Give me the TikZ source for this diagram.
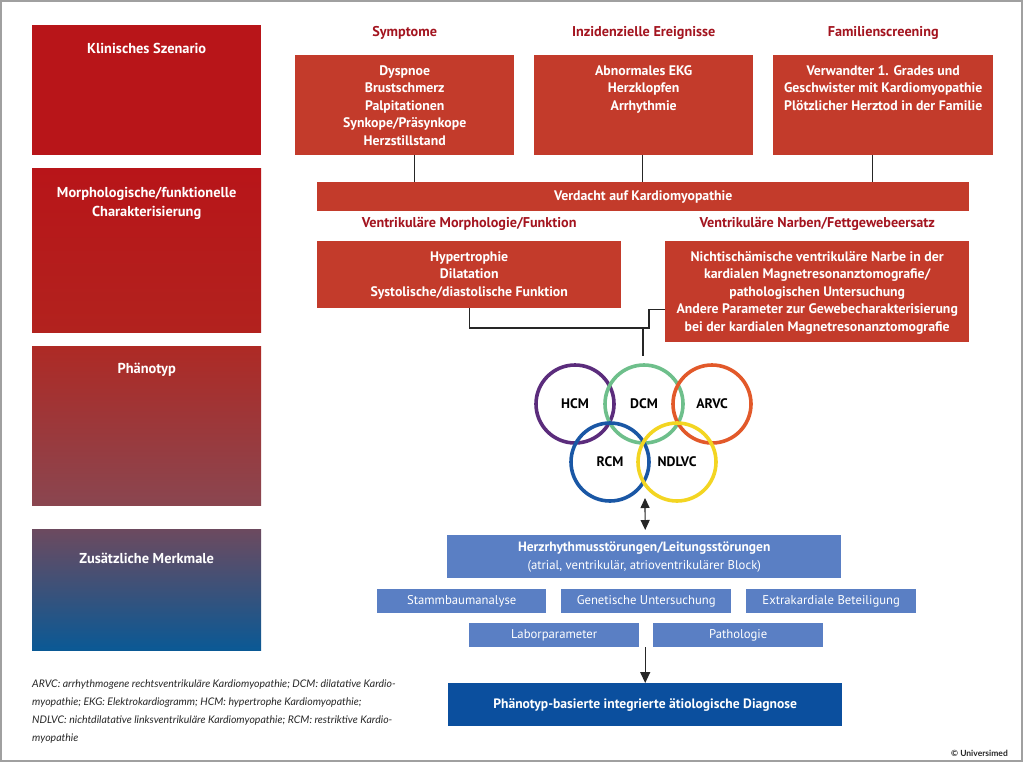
\documentclass[tikz,border=0pt]{standalone}
\usepackage{fontspec}
\setmainfont{PT Sans}
\newfontfamily\notefont{Lato}
\usepackage{xcolor}
\usepackage{tikz}
\usetikzlibrary{shapes,arrows,arrows.meta,positioning}

\definecolor{framegray}{HTML}{A0A0A0}
\definecolor{szenred}{HTML}{B81519}
\definecolor{morphred}{HTML}{B2221E}
\definecolor{phenored}{HTML}{AE2A25}
\definecolor{phenomauve}{HTML}{8A4650}
\definecolor{zusatzmauve}{HTML}{6C4A5F}
\definecolor{zusatzmid}{HTML}{48506F}
\definecolor{zusatzblue}{HTML}{0A5995}
\definecolor{headred}{HTML}{A3141F}
\definecolor{boxred}{HTML}{C33B2B}
\definecolor{lightblue}{HTML}{5A7FC4}
\definecolor{diagblue}{HTML}{0B4F9E}
\definecolor{hcmcol}{HTML}{5B2C7C}
\definecolor{dcmcol}{HTML}{6EBF8B}
\definecolor{arvccol}{HTML}{E2592A}
\definecolor{rcmcol}{HTML}{1A57A5}
\definecolor{ndlvccol}{HTML}{F3D522}

\newcommand\boxfont{\bfseries\fontsize{13.8}{17.6}\selectfont}
\newcommand\headfont{\bfseries\fontsize{14.2}{17.6}\selectfont}
\newcommand\stagefont{\bfseries\fontsize{14.4}{19}\selectfont}
\newcommand\plainfont{\fontsize{12.7}{18}\selectfont}

\tikzset{
    frame/.style={
        draw=framegray,
        line width=1.2pt
    },
    stage/.style={
        rectangle,
        anchor=north west,
        inner sep=0pt,
        minimum width=229pt
    },
    stagetext/.style={
        anchor=north,
        align=center,
        inner sep=0pt,
        text=white,
        font=\stagefont
    },
    redbox/.style={
        rectangle,
        anchor=north west,
        inner sep=0pt,
        fill=boxred
    },
    boxtext/.style={
        align=center,
        inner sep=0pt,
        text=white,
        font=\boxfont
    },
    heading/.style={
        inner sep=0pt,
        text=headred,
        font=\headfont
    },
    ring/.style={
        circle,
        inner sep=0pt,
        minimum size=78pt,
        line width=3.6pt,
        text=black,
        font=\boxfont
    },
    bluebox/.style={
        rectangle,
        anchor=north west,
        inner sep=0pt,
        fill=lightblue,
        text=white,
        align=center,
        font=\plainfont
    },
    link/.style={
        line width=1.2pt,
        black!85
    }
}

\begin{document}
\begin{tikzpicture}[x=1pt,y=-1pt]
    \useasboundingbox (0,0) rectangle (1024,763);
    \draw[frame] (1,1) rectangle (1022,761);

    \node[
        stage,
        minimum height=130pt,
        fill=szenred
        ] (szenario) at (32,25) {};
    \node[stagetext, below=18pt of szenario.north] (szenario-text) {Klinisches Szenario};

    \node[
        stage,
        minimum height=164pt,
        top color=szenred,
        bottom color=morphred
        ] (morpho) at (32,168) {};
    \node[stagetext, below=19pt of morpho.north] (morpho-text) {Morphologische/funktionelle\\Charakterisierung};

    \node[
        stage,
        minimum height=159pt,
        top color=phenored,
        bottom color=phenomauve
        ] (phaeno) at (32,346) {};
    \node[stagetext, below=17pt of phaeno.north] (phaeno-text) {Phänotyp};

    \node[
        stage,
        minimum height=121pt,
        top color=zusatzmauve,
        middle color=zusatzmid,
        bottom color=zusatzblue
        ] (zusatz) at (32,529) {};
    \node[stagetext, below=24pt of zusatz.north] (zusatz-text) {Zusätzliche Merkmale};

    \node[
        redbox,
        minimum width=219pt,
        minimum height=100pt
        ] (symptome) at (295,55) {};
    \node[boxtext, anchor=north, below=10pt of symptome.north] (symptome-text) {Dyspnoe\\Brustschmerz\\Palpitationen\\Synkope/Präsynkope\\Herzstillstand};
    \node[heading, above=15pt of symptome] (symptome-head) {Symptome};

    \node[
        redbox,
        minimum width=219pt,
        minimum height=100pt
        ] (inzidenz) at (534,55) {};
    \node[boxtext, anchor=north, below=10pt of inzidenz.north] (inzidenz-text) {Abnormales EKG\\Herzklopfen\\Arrhythmie};
    \node[heading, above=15pt of inzidenz] (inzidenz-head) {Inzidenzielle Ereignisse};

    \node[
        redbox,
        minimum width=220pt,
        minimum height=100pt
        ] (familie) at (773,55) {};
    \node[boxtext, anchor=north, below=10pt of familie.north] (familie-text) {Verwandter 1. Grades und\\Geschwister mit Kardiomyopathie\\Plötzlicher Herztod in der Familie};
    \node[heading, above=15pt of familie] (familie-head) {Familienscreening};

    \node[
        redbox,
        minimum width=652pt,
        minimum height=29pt,
        text=white,
        font=\boxfont
        ] (verdacht) at (317,182) {Verdacht auf Kardiomyopathie};

    \node[
        redbox,
        minimum width=304pt,
        minimum height=67pt
        ] (morph) at (317,241) {};
    \node[boxtext, anchor=north, below=10pt of morph.north] (morph-text) {Hypertrophie\\Dilatation\\Systolische/diastolische Funktion};
    \node[heading, above=10pt of morph] (morph-head) {Ventrikuläre Morphologie/Funktion};

    \node[
        redbox,
        minimum width=304pt,
        minimum height=101pt
        ] (narben) at (665,241) {};
    \node[boxtext, anchor=north, below=10pt of narben.north] (narben-text) {Nichtischämische ventrikuläre Narbe in der\\kardialen Magnetresonanztomografie/\\pathologischen Untersuchung\\Andere Parameter zur Gewebecharakterisierung\\bei der kardialen Magnetresonanztomografie};
    \node[heading, above=10pt of narben] (narben-head) {Ventrikuläre Narben/Fettgewebeersatz};

    \draw[link] ([xshift=10pt]symptome.south) -- ([xshift=10pt]symptome.south |- verdacht.north);
    \draw[link] ([xshift=-1pt]inzidenz.south) -- ([xshift=-1pt]inzidenz.south |- verdacht.north);
    \draw[link] ([xshift=-11pt]familie.south) -- ([xshift=-11pt]familie.south |- verdacht.north);

    \node[ring, draw=hcmcol] (hcm) at (575,404) {HCM};
    \node[ring, draw=dcmcol] (dcm) at (644,404) {DCM};
    \node[ring, draw=arvccol] (arvc) at (712,404) {ARVC};
    \node[ring, draw=rcmcol] (rcm) at (610,462) {RCM};
    \node[ring, draw=ndlvccol] (ndlvc) at (677,462) {NDLVC};

    \coordinate (knot) at (649,328);
    \coordinate (drop) at (643,328);
    \draw[link] (morph.south) |- (knot) |- ([yshift=-18pt]narben.west);
    \draw[link] (drop) -- ([xshift=-1pt, yshift=7pt]dcm.north);

    \node[
        bluebox,
        minimum width=394pt,
        minimum height=43pt
        ] (herz) at (447,535) {{\bfseries\fontsize{13.5}{18}\selectfont Herzrhythmusstörungen/Leitungsstörungen}\\(atrial, ventrikulär, atrioventrikulärer Block)};

    \node[bluebox, minimum width=169pt, minimum height=24pt] (stammbaum) at (377,589) {Stammbaumanalyse};
    \node[bluebox, minimum width=170pt, minimum height=24pt] (genetik) at (561,589) {Genetische Untersuchung};
    \node[bluebox, minimum width=170pt, minimum height=24pt] (extra) at (746,589) {Extrakardiale Beteiligung};
    \node[bluebox, minimum width=170pt, minimum height=24pt] (labor) at (469,623) {Laborparameter};
    \node[bluebox, minimum width=170pt, minimum height=24pt] (patho) at (653,623) {Pathologie};

    \node[
        bluebox,
        fill=diagblue,
        minimum width=394pt,
        minimum height=43pt,
        font=\bfseries\fontsize{13.6}{16}\selectfont
        ] (diagnose) at (448,683) {Phänotyp-basierte integrierte ätiologische Diagnose};

    \coordinate (ringfoot) at (645,498);
    \draw[
        link,
        {Triangle[length=10pt,width=9pt]}-{Triangle[length=10pt,width=9pt]}
        ] (ringfoot) -- ([xshift=1pt, yshift=5pt]herz.north);
    \draw[
        link,
        -{Triangle[length=11pt,width=10pt]}
        ] (diagnose.north |- labor.south) -- (diagnose.north);

    \node[
        anchor=north west,
        inner sep=0pt,
        align=left,
        text=black!85,
        font=\notefont\itshape\fontsize{10.5}{18}\selectfont
        ] (legende) at (32,680) {ARVC: arrhythmogene rechtsventrikuläre Kardiomyopathie; DCM: dilatative Kardio-\\myopathie; EKG: Elektrokardiogramm; HCM: hypertrophe Kardiomyopathie;\\NDLVC: nichtdilatative linksventrikuläre Kardiomyopathie; RCM: restriktive Kardio-\\myopathie};

    \node[
        anchor=east,
        inner sep=0pt,
        text=black!85,
        font=\notefont\bfseries\fontsize{8.5}{10}\selectfont
        ] (copyright) at (1008,753) {© Universimed};
\end{tikzpicture}
\end{document}
